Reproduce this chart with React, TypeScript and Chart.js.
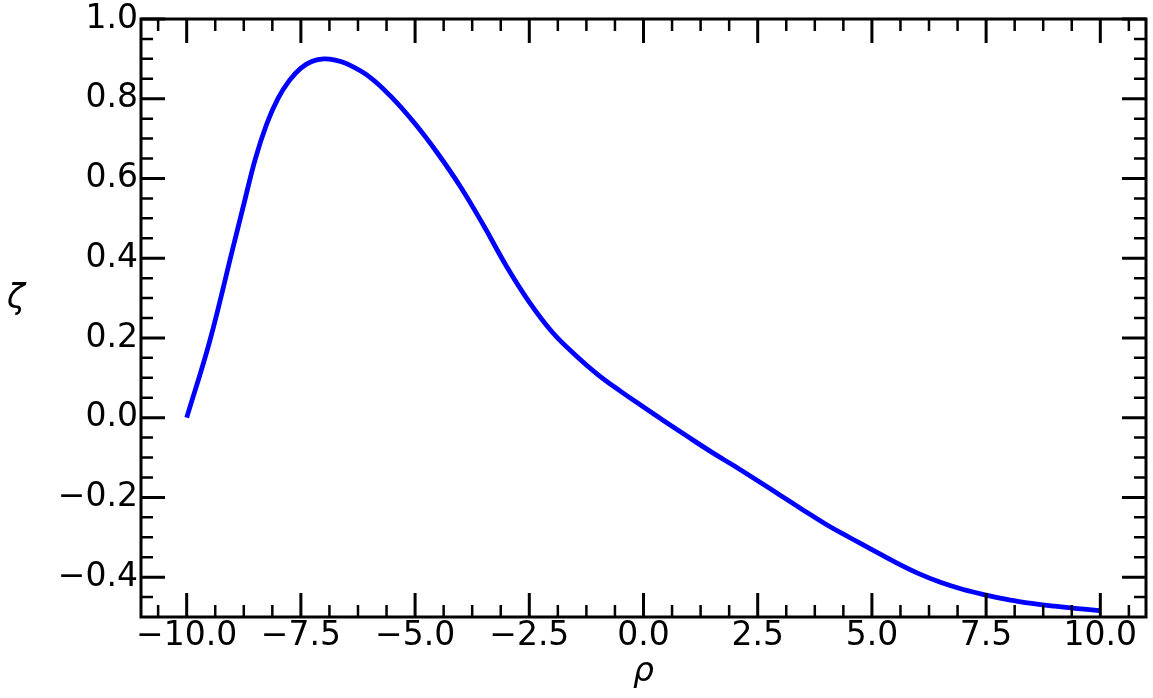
import React, { useEffect, useRef } from 'react';
import { Chart, registerables } from 'chart.js';

Chart.register(...registerables);

// ---- data ----
const RHO = [
  -10, -9.5, -9, -8.75, -8.5, -8.25, -8, -7.75, -7.5, -7.25, -7, -6.75, -6.5, -6, -5.5,
  -5, -4.5, -4, -3.5, -3, -2.5, -2, -1.5, -1, -0.5, 0, 0.5, 1, 1.5, 2, 2.5, 3, 3.5, 4,
  4.5, 5, 5.5, 6, 6.5, 7, 7.5, 8, 8.5, 9, 9.5, 10,
];
const ZETA = [
  0.0, 0.19, 0.42, 0.535, 0.648, 0.736, 0.801, 0.846, 0.877, 0.894, 0.9, 0.897, 0.888,
  0.855, 0.802, 0.737, 0.662, 0.578, 0.482, 0.38, 0.29, 0.215, 0.158, 0.108, 0.066,
  0.027, -0.012, -0.05, -0.087, -0.122, -0.158, -0.195, -0.232, -0.268, -0.3, -0.331,
  -0.362, -0.39, -0.413, -0.431, -0.445, -0.457, -0.466, -0.473, -0.479, -0.484,
];

const X_MIN = -11;
const X_MAX = 11;
const Y_MIN = -0.5;
const Y_MAX = 1.0;

const X_TICKS = [-10, -7.5, -5, -2.5, 0, 2.5, 5, 7.5, 10];
const Y_TICKS = [-0.4, -0.2, 0, 0.2, 0.4, 0.6, 0.8, 1.0];
const X_MINOR = [
  -10.625, -9.375, -8.75, -8.125, -6.875, -6.25, -5.625, -4.375, -3.75, -3.125, -1.875,
  -1.25, -0.625, 0.625, 1.25, 1.875, 3.125, 3.75, 4.375, 5.625, 6.25, 6.875, 8.125, 8.75,
  9.375, 10.625,
];
const Y_MINOR = [
  -0.45, -0.35, -0.3, -0.25, -0.15, -0.1, -0.05, 0.05, 0.1, 0.15, 0.25, 0.3, 0.35, 0.45,
  0.5, 0.55, 0.65, 0.7, 0.75, 0.85, 0.9, 0.95,
];

const X_LABEL = 'ρ';
const Y_LABEL = 'ζ';

const FONT = 'DejaVu Sans';
const FONT_SIZE = 33;

const fmt = (v: number) => {
  const s = Math.abs(v) < 1e-9 ? '0.0' : v.toFixed(1);
  return s.replace('-', '\u2212');
};

const frameTicks = {
  id: 'frameTicks',
  afterDraw(chart: any) {
    const { ctx, chartArea: a } = chart;
    const xs = chart.scales.x;
    const ys = chart.scales.y;
    ctx.save();
    ctx.strokeStyle = '#000';
    ctx.lineCap = 'butt';
    const drawX = (vals: number[], len: number, w: number) => {
      ctx.lineWidth = w;
      ctx.beginPath();
      for (const v of vals) {
        const p = xs.getPixelForValue(v);
        ctx.moveTo(p, a.bottom);
        ctx.lineTo(p, a.bottom - len);
        ctx.moveTo(p, a.top);
        ctx.lineTo(p, a.top + len);
      }
      ctx.stroke();
    };
    const drawY = (vals: number[], len: number, w: number) => {
      ctx.lineWidth = w;
      ctx.beginPath();
      for (const v of vals) {
        const p = ys.getPixelForValue(v);
        ctx.moveTo(a.left, p);
        ctx.lineTo(a.left + len, p);
        ctx.moveTo(a.right, p);
        ctx.lineTo(a.right - len, p);
      }
      ctx.stroke();
    };
    drawX(X_MINOR, 12, 2.5);
    drawY(Y_MINOR, 12, 2.5);
    drawX(X_TICKS, 24, 3);
    drawY(Y_TICKS, 24, 3);
    ctx.lineWidth = 3;
    ctx.strokeRect(a.left, a.top, a.right - a.left, a.bottom - a.top);

    ctx.fillStyle = '#000';
    ctx.font = `italic ${FONT_SIZE}px "${FONT}"`;
    ctx.textAlign = 'center';
    ctx.textBaseline = 'alphabetic';
    ctx.fillText(X_LABEL, (a.left + a.right) / 2, 681);
    ctx.fillText(Y_LABEL, 16, 308);
    ctx.restore();
  },
};

export default function App() {
  const ref = useRef<HTMLCanvasElement | null>(null);

  useEffect(() => {
    document.body.style.margin = '0';
    const canvas = ref.current;
    if (!canvas) return;
    const points = RHO.map((x, i) => ({ x, y: ZETA[i] }));
    const chart = new Chart(canvas, {
      type: 'line',
      data: {
        datasets: [
          {
            data: points,
            borderColor: '#0000ff',
            borderWidth: 4.8,
            pointRadius: 0,
            tension: 0.4,
            fill: false,
          },
        ],
      },
      options: {
        animation: false,
        responsive: false,
        devicePixelRatio: 1,
        layout: { padding: { left: 0, top: 19, right: 7, bottom: 0 } },
        plugins: {
          legend: { display: false },
          tooltip: { enabled: false },
          title: { display: false },
        },
        scales: {
          x: {
            type: 'linear',
            min: X_MIN,
            max: X_MAX,
            afterBuildTicks: (s: any) => {
              s.ticks = X_TICKS.map((v) => ({ value: v }));
            },
            afterFit: (s: any) => {
              s.height = 81;
              s.paddingLeft = 0;
              s.paddingRight = 0;
            },
            grid: { display: false, drawTicks: false },
            border: { display: false },
            ticks: {
              autoSkip: false,
              maxRotation: 0,
              padding: 0,
              color: '#000',
              font: { family: FONT, size: FONT_SIZE },
              callback: (v: any) => fmt(Number(v)),
            },
          },
          y: {
            type: 'linear',
            min: Y_MIN,
            max: Y_MAX,
            afterBuildTicks: (s: any) => {
              s.ticks = Y_TICKS.map((v) => ({ value: v }));
            },
            afterFit: (s: any) => {
              s.width = 141;
              s.paddingTop = 0;
              s.paddingBottom = 0;
            },
            grid: { display: false, drawTicks: false },
            border: { display: false },
            ticks: {
              autoSkip: false,
              padding: 3,
              color: '#000',
              font: { family: FONT, size: FONT_SIZE },
              callback: (v: any) => fmt(Number(v)),
            },
          },
        },
      },
      plugins: [frameTicks],
    } as any);
    return () => chart.destroy();
  }, []);

  return (
    <div style={{ width: 1153, height: 698 }}>
      <canvas ref={ref} width={1153} height={698} style={{ display: 'block' }} />
    </div>
  );
}
